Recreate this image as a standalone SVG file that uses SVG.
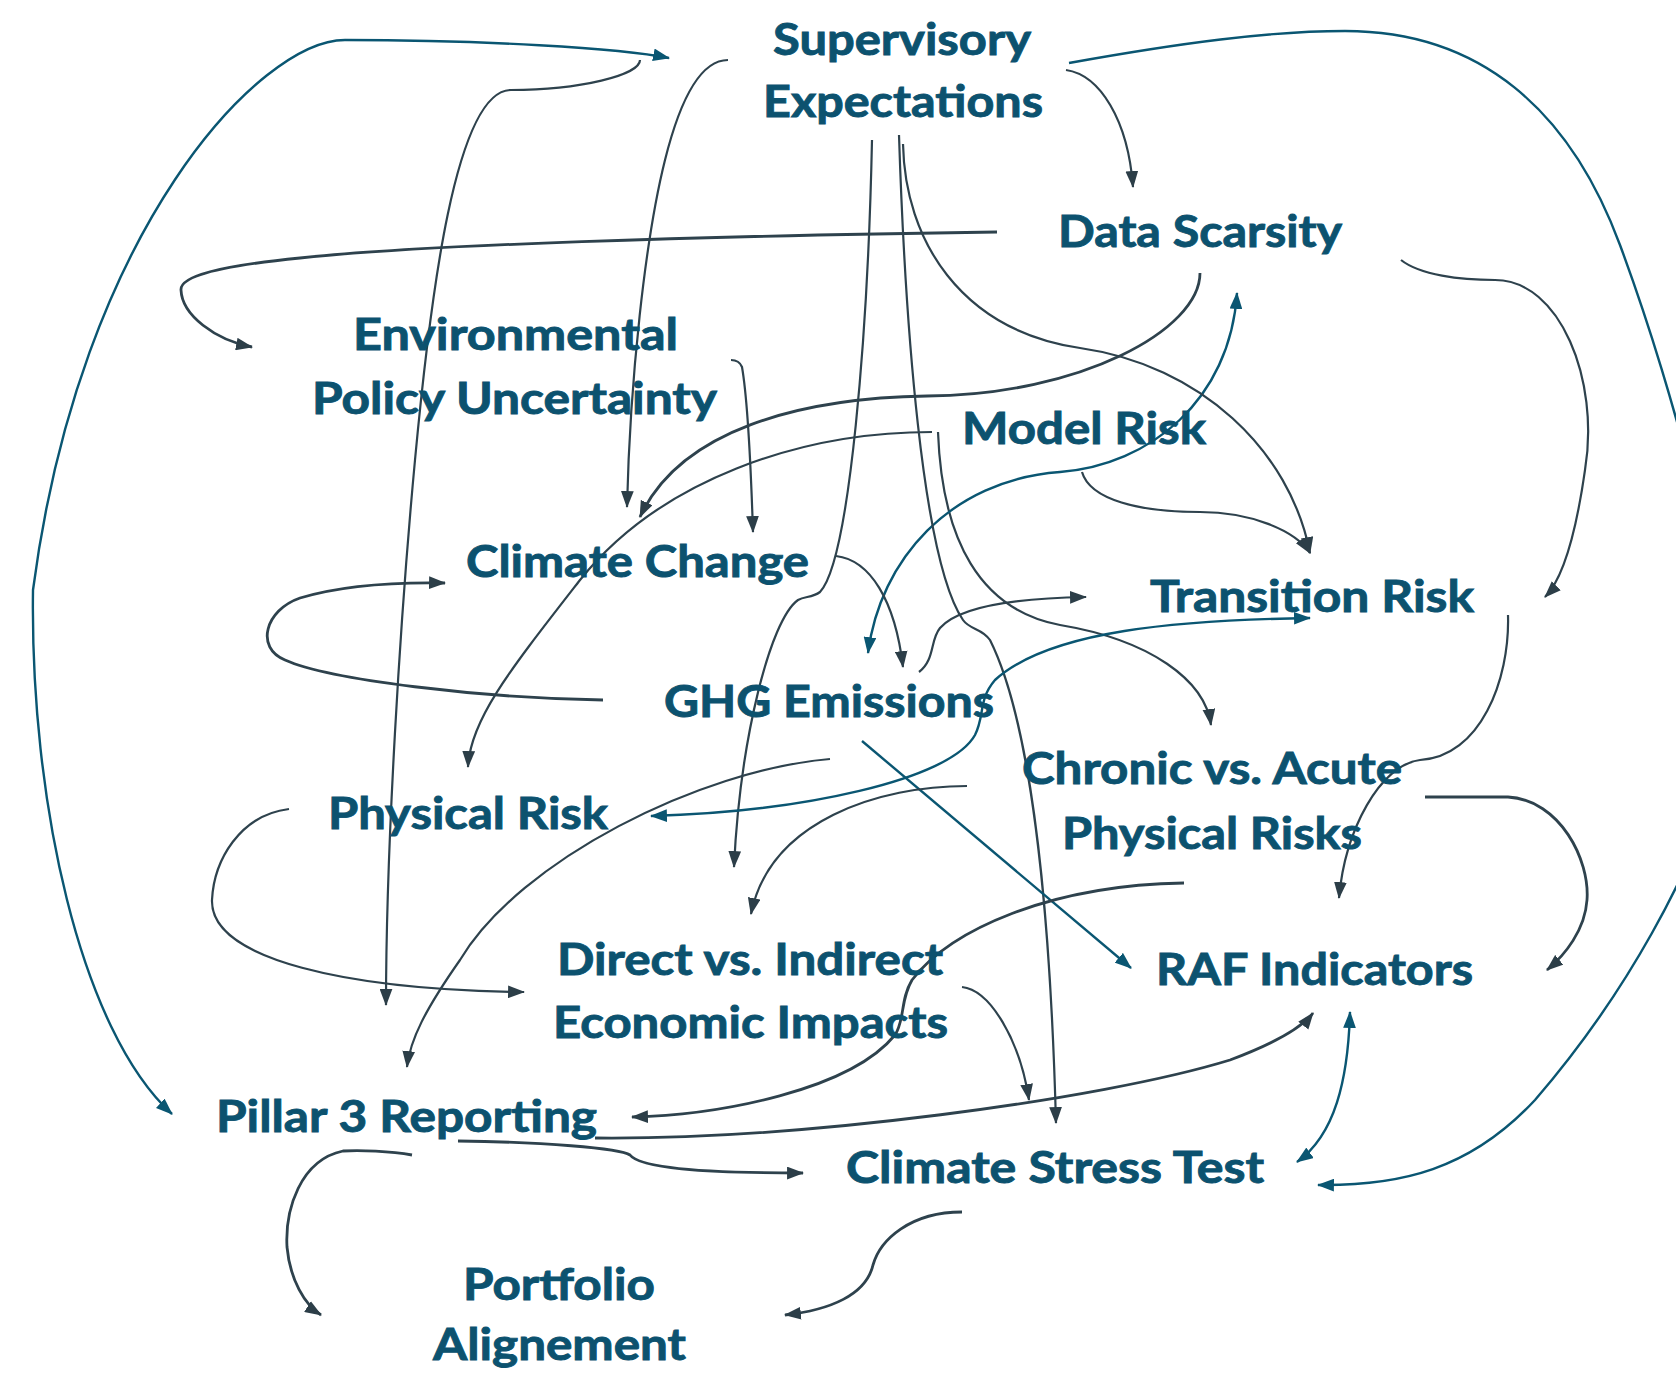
<svg xmlns="http://www.w3.org/2000/svg" width="1676" height="1373" viewBox="0 0 1676 1373">
  <style>
    .lbl { font-family: Lato, "Open Sans", "Liberation Sans", sans-serif; font-weight: 700; font-size: 44px; fill: #0c526f; stroke: #0c526f; stroke-width: 0.9; }
    .dk { fill: none; stroke: #2e424d; stroke-width: 2.2; }
    .dk.w { stroke-width: 2.8; }
    .tl { fill: none; stroke: #0a5672; stroke-width: 2.4; }
    .ah { marker-end: url(#ad); }
    .th { marker-end: url(#at); }
    .tb { marker-start: url(#at); marker-end: url(#at); }
  </style>
  <defs>
    <marker id="ad" viewBox="0 0 16 12" refX="15" refY="6" markerWidth="17" markerHeight="13" orient="auto-start-reverse" markerUnits="userSpaceOnUse">
      <path d="M0,0 L16,6 L0,12 z" fill="#2c3e48"/>
    </marker>
    <marker id="at" viewBox="0 0 16 12" refX="15" refY="6" markerWidth="17" markerHeight="13" orient="auto-start-reverse" markerUnits="userSpaceOnUse">
      <path d="M0,0 L16,6 L0,12 z" fill="#0a5672"/>
    </marker>
  </defs>
  <rect width="1676" height="1373" fill="#ffffff"/>

  <g id="connectors">
    <!-- Pillar 3 <-> Supervisory (outer left loop) -->
    <path class="tl tb" d="M669,58 C620,48 480,40 345,40 C260,40 80,230 33,590 C30,800 80,1030 172,1114"/>
    <!-- Supervisory -> Pillar 3 -->
    <path class="dk ah" d="M640,60 C640,75 580,90 511,90 C455,90 430,300 415,460 C400,620 386,850 386,1005"/>
    <!-- Supervisory -> Climate Change -->
    <path class="dk ah" d="M728,60 C700,60 680,100 665,160 C645,240 630,380 627,507"/>
    <!-- Data Scarsity -> Environmental Policy Uncertainty -->
    <path class="dk w ah" d="M997,232 C700,236 420,245 300,258 C220,266 180,276 181,290 C182,315 215,340 252,347"/>
    <!-- Environmental Policy Uncertainty -> Climate Change -->
    <path class="dk ah" d="M731,360 C736,360 740,362 742,367 C746,390 750,440 753,532"/>
    <!-- Data Scarsity -> Climate Change -->
    <path class="dk w ah" d="M1200,273 C1200,330 1080,395 927,396 C800,398 680,430 640,517"/>
    <!-- Model Risk -> Physical Risk -->
    <path class="dk ah" d="M932,432 C800,432 660,480 580,580 C510,670 470,720 468,767"/>
    <!-- Model Risk -> Chronic vs. Acute -->
    <path class="dk ah" d="M938,432 C942,540 980,610 1060,625 C1150,640 1205,680 1211,725"/>
    <!-- GHG Emissions <-> Data Scarsity -->
    <path class="tl tb" d="M868,653 C880,560 950,480 1060,472 C1150,465 1230,400 1237,293"/>
    <!-- Model Risk -> Transition Risk -->
    <path class="dk ah" d="M1082,472 C1090,500 1140,512 1200,512 C1250,512 1295,530 1310,553"/>
    <!-- Supervisory -> Transition Risk -->
    <path class="dk ah" d="M903,144 C905,240 960,330 1080,348 C1200,365 1290,450 1310,553"/>
    <!-- Supervisory -> Direct vs. Indirect -->
    <path class="dk ah" d="M872,140 C868,330 850,560 820,592 C812,598 805,596 798,600 C770,620 740,740 734,867"/>
    <!-- Supervisory -> Climate Stress Test -->
    <path class="dk ah" d="M899,135 C905,320 922,560 963,620 C970,630 982,628 990,640 C1030,720 1050,900 1056,1123"/>
    <!-- Supervisory -> Data Scarsity -->
    <path class="dk ah" d="M1066,70 C1100,75 1128,120 1133,187"/>
    <!-- Supervisory -> Climate Stress Test (outer right loop, runs past the right edge) -->
    <path class="tl th" d="M1069,63 C1180,43 1270,31 1345,31 C1480,31 1570,110 1620,245 C1670,380 1755,660 1715,790 C1692,868 1630,990 1535,1100 C1470,1170 1400,1186 1318,1185"/>
    <!-- Data Scarsity -> Transition Risk -->
    <path class="dk ah" d="M1401,260 C1420,275 1460,280 1495,280 C1560,280 1600,380 1585,470 C1575,540 1562,580 1545,597"/>
    <!-- Climate Change -> GHG Emissions -->
    <path class="dk ah" d="M836,556 C870,560 895,600 903,667"/>
    <!-- GHG Emissions -> Climate Change -->
    <path class="dk w ah" d="M603,700 C480,698 330,680 285,660 C255,648 265,610 300,598 C340,586 390,582 445,583"/>
    <!-- GHG Emissions -> Transition Risk -->
    <path class="dk ah" d="M919,672 C935,660 930,640 940,628 C960,605 1025,598 1086,597"/>
    <!-- GHG Emissions -> RAF Indicators -->
    <path class="tl th" d="M862,741 L1131,968"/>
    <!-- GHG Emissions -> Pillar 3 Reporting -->
    <path class="dk ah" d="M830,759 C700,770 520,860 460,960 C425,1010 410,1040 407,1067"/>
    <!-- Physical Risk <-> Transition Risk -->
    <path class="tl tb" d="M651,816 C800,812 950,780 975,735 C985,715 978,700 995,680 C1050,630 1180,620 1310,618"/>
    <!-- Physical Risk -> Direct vs. Indirect -->
    <path class="dk ah" d="M289,809 C240,815 214,860 212,900 C210,960 350,990 524,992"/>
    <!-- Chronic vs. Acute -> Direct vs. Indirect -->
    <path class="dk ah" d="M967,786 C880,786 770,820 751,914"/>
    <!-- Chronic vs. Acute -> Pillar 3 Reporting -->
    <path class="dk w ah" d="M1184,883 C1050,885 950,930 912,980 C900,1000 905,1020 895,1035 C850,1090 720,1115 632,1117"/>
    <!-- Chronic vs. Acute -> RAF Indicators -->
    <path class="dk w ah" d="M1425,797 L1508,797 C1560,800 1590,860 1587,900 C1585,930 1565,955 1547,970"/>
    <!-- Transition Risk -> RAF Indicators -->
    <path class="dk ah" d="M1508,615 C1510,680 1480,757 1420,760 C1380,765 1345,830 1339,898"/>
    <!-- Direct vs. Indirect -> Climate Stress Test -->
    <path class="dk ah" d="M962,987 C990,990 1020,1040 1029,1100"/>
    <!-- Pillar 3 Reporting -> RAF Indicators -->
    <path class="dk w ah" d="M595,1138 C800,1140 1100,1100 1230,1060 C1270,1045 1300,1030 1313,1013"/>
    <!-- Pillar 3 Reporting -> Climate Stress Test -->
    <path class="dk w ah" d="M458,1141 C540,1142 620,1148 630,1155 C640,1168 700,1173 803,1173"/>
    <!-- Pillar 3 Reporting -> Portfolio Alignement -->
    <path class="dk w ah" d="M412,1155 C390,1151 360,1150 343,1151 C300,1160 285,1210 287,1247 C290,1280 305,1305 321,1315"/>
    <!-- Climate Stress Test -> Portfolio Alignement -->
    <path class="dk w ah" d="M962,1212 C910,1212 880,1240 873,1265 C866,1295 830,1310 785,1315"/>
    <!-- RAF Indicators <-> Climate Stress Test -->
    <path class="tl tb" d="M1350,1012 C1348,1080 1335,1135 1297,1162"/>
  </g>

  <g id="supervisory-expectations">
    <text class="lbl" x="773" y="55" textLength="258" lengthAdjust="spacingAndGlyphs">Supervisory</text>
    <text class="lbl" x="763" y="117" textLength="280" lengthAdjust="spacingAndGlyphs">Expectations</text>
  </g>
  <g id="data-scarsity">
    <text class="lbl" x="1058" y="247" textLength="284" lengthAdjust="spacingAndGlyphs">Data Scarsity</text>
  </g>
  <g id="environmental-policy-uncertainty">
    <text class="lbl" x="353" y="350" textLength="325" lengthAdjust="spacingAndGlyphs">Environmental</text>
    <text class="lbl" x="312" y="414" textLength="405" lengthAdjust="spacingAndGlyphs">Policy Uncertainty</text>
  </g>
  <g id="model-risk">
    <text class="lbl" x="962" y="444" textLength="244" lengthAdjust="spacingAndGlyphs">Model Risk</text>
  </g>
  <g id="climate-change">
    <text class="lbl" x="466" y="577" textLength="343" lengthAdjust="spacingAndGlyphs">Climate Change</text>
  </g>
  <g id="transition-risk">
    <text class="lbl" x="1150" y="612" textLength="324" lengthAdjust="spacingAndGlyphs">Transition Risk</text>
  </g>
  <g id="ghg-emissions">
    <text class="lbl" x="664" y="717" textLength="330" lengthAdjust="spacingAndGlyphs">GHG Emissions</text>
  </g>
  <g id="chronic-acute">
    <text class="lbl" x="1022" y="784" textLength="380" lengthAdjust="spacingAndGlyphs">Chronic vs. Acute</text>
    <text class="lbl" x="1062" y="849" textLength="300" lengthAdjust="spacingAndGlyphs">Physical Risks</text>
  </g>
  <g id="physical-risk">
    <text class="lbl" x="328" y="829" textLength="280" lengthAdjust="spacingAndGlyphs">Physical Risk</text>
  </g>
  <g id="direct-indirect">
    <text class="lbl" x="557" y="975" textLength="386" lengthAdjust="spacingAndGlyphs">Direct vs. Indirect</text>
    <text class="lbl" x="553" y="1038" textLength="395" lengthAdjust="spacingAndGlyphs">Economic Impacts</text>
  </g>
  <g id="raf-indicators">
    <text class="lbl" x="1156" y="985" textLength="317" lengthAdjust="spacingAndGlyphs">RAF Indicators</text>
  </g>
  <g id="pillar3-reporting">
    <text class="lbl" x="216" y="1132" textLength="381" lengthAdjust="spacingAndGlyphs">Pillar 3 Reporting</text>
  </g>
  <g id="climate-stress-test">
    <text class="lbl" x="846" y="1183" textLength="418" lengthAdjust="spacingAndGlyphs">Climate Stress Test</text>
  </g>
  <g id="portfolio-alignement">
    <text class="lbl" x="463" y="1300" textLength="192" lengthAdjust="spacingAndGlyphs">Portfolio</text>
    <text class="lbl" x="433" y="1360" textLength="253" lengthAdjust="spacingAndGlyphs">Alignement</text>
  </g>
</svg>
